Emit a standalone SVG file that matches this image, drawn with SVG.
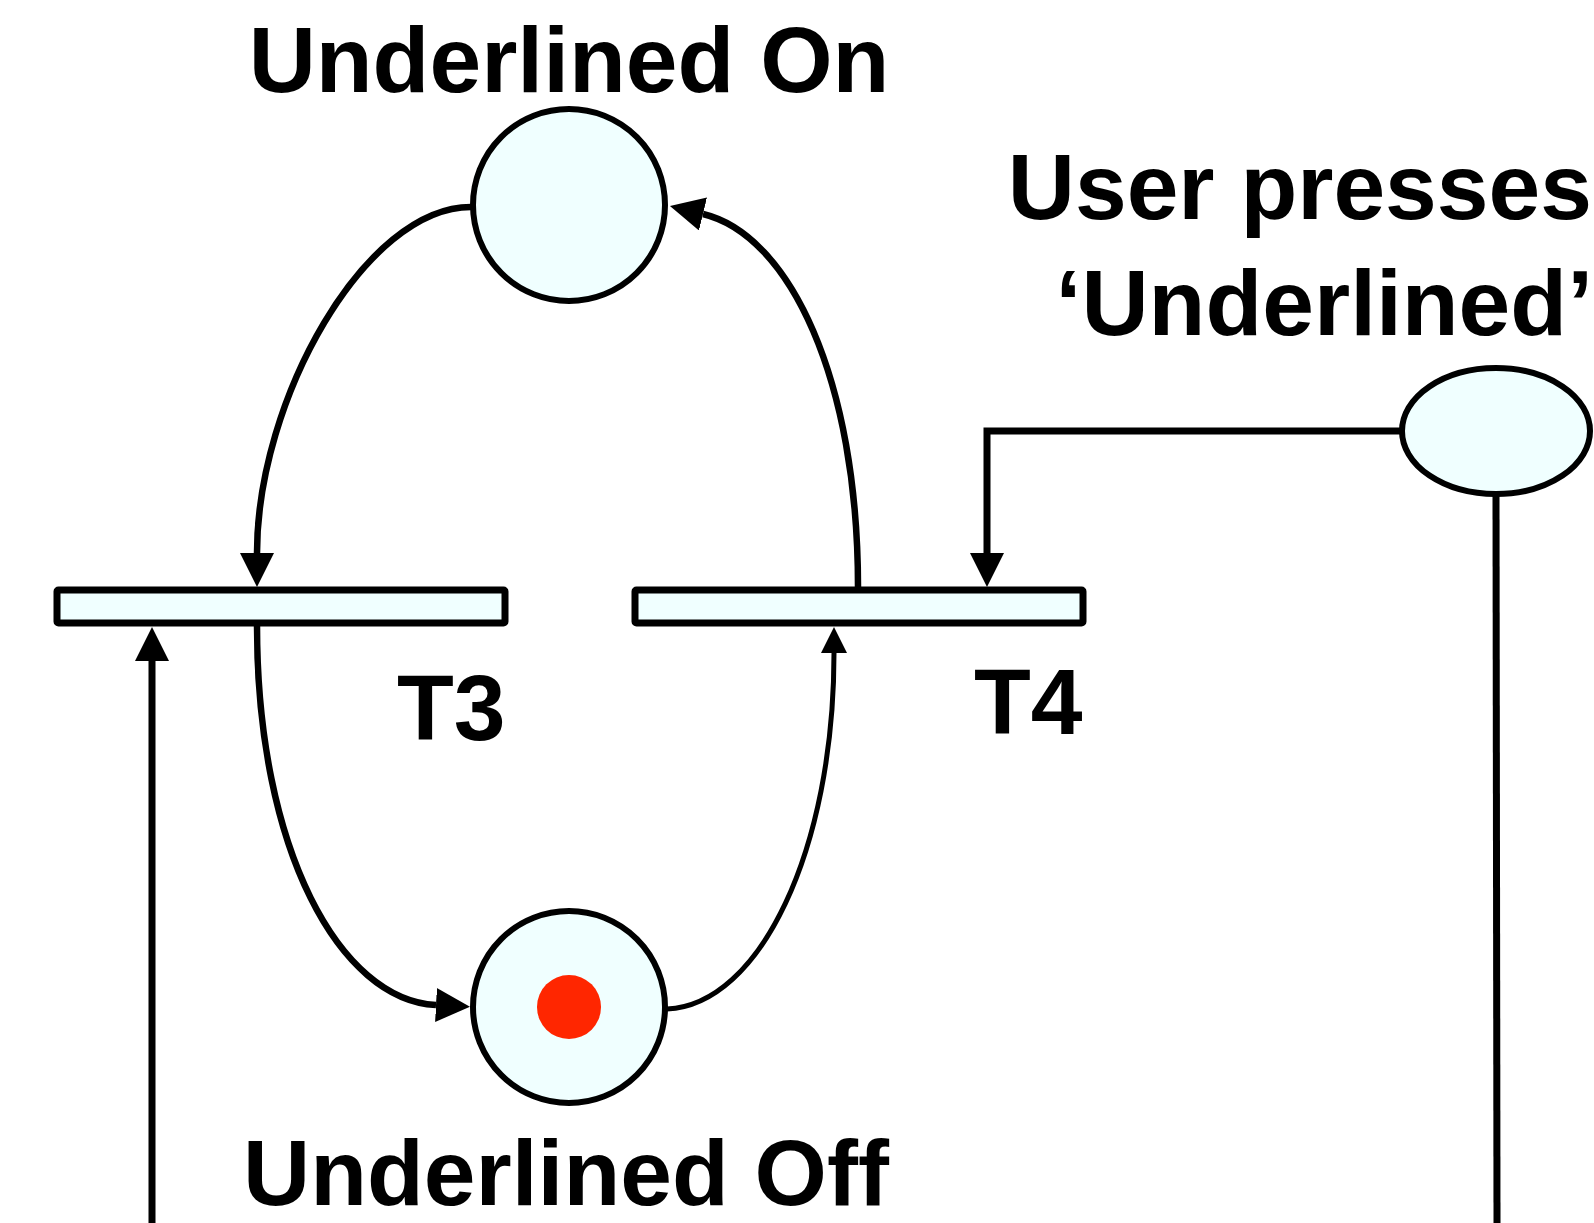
<svg xmlns="http://www.w3.org/2000/svg" width="1594" height="1223" viewBox="0 0 1594 1223">
<style>
.place{fill:#F0FFFF;stroke:#000;stroke-width:6}
.trans{fill:#F0FFFF;stroke:#000;stroke-width:7;stroke-linejoin:round}
.lbl{font-family:"Liberation Sans",Arial,Helvetica,sans-serif;font-weight:bold;font-size:93px;fill:#000}
.arc{fill:none;stroke:#000;stroke-width:6.5}
.line{fill:none;stroke:#000;stroke-width:7}
.thin{fill:none;stroke:#000;stroke-width:5}
</style>
<defs>
<marker id="ah" markerUnits="userSpaceOnUse" markerWidth="34" markerHeight="34" refX="0" refY="17" orient="auto">
<path d="M0,0 L34,17 L0,34 z" fill="#000"/>
</marker>
<marker id="ahs" markerUnits="userSpaceOnUse" markerWidth="26" markerHeight="26" refX="0" refY="13" orient="auto">
<path d="M0,0 L26,13 L0,26 z" fill="#000"/>
</marker>
</defs>
<rect width="1594" height="1223" fill="#fff"/>
<g id="connectors">
<path class="arc" d="M471,207 C365,207 257,400 257,553" marker-end="url(#ah)"/>
<path class="arc" d="M257,626 C257,850 340,1000 436,1005" marker-end="url(#ah)"/>
<path class="thin" d="M667,1009 C760,1005 834,850 834,653" marker-end="url(#ahs)"/>
<path class="arc" d="M858,587 C858,380 790,235 703,214" marker-end="url(#ah)"/>
<path class="line" d="M1402,431 L987,431 L987,553" marker-end="url(#ah)"/>
<path class="line" d="M1496,495 L1497,1223"/>
<path class="line" d="M152,1223 L152,661" marker-end="url(#ah)"/>
</g>
<g id="p-underlined-on">
<circle class="place" cx="569" cy="205" r="96"/>
<text class="lbl" x="569" y="92" text-anchor="middle">Underlined On</text>
</g>
<g id="p-underlined-off">
<circle class="place" cx="569" cy="1007" r="96"/>
<circle cx="569" cy="1007" r="32" fill="#FF2600"/>
<text class="lbl" x="566" y="1205" text-anchor="middle">Underlined Off</text>
</g>
<g id="p-user-presses">
<ellipse class="place" cx="1496" cy="431" rx="94" ry="63"/>
<text class="lbl" x="1592" y="219" text-anchor="end">User presses</text>
<text class="lbl" x="1593" y="335" text-anchor="end">‘Underlined’</text>
</g>
<g id="t3">
<rect class="trans" x="57" y="590" width="448" height="33" rx="1.5"/>
<text class="lbl" x="397" y="740">T3</text>
</g>
<g id="t4">
<rect class="trans" x="635" y="590" width="448" height="33" rx="1.5"/>
<text class="lbl" x="974" y="734">T4</text>
</g>
</svg>
